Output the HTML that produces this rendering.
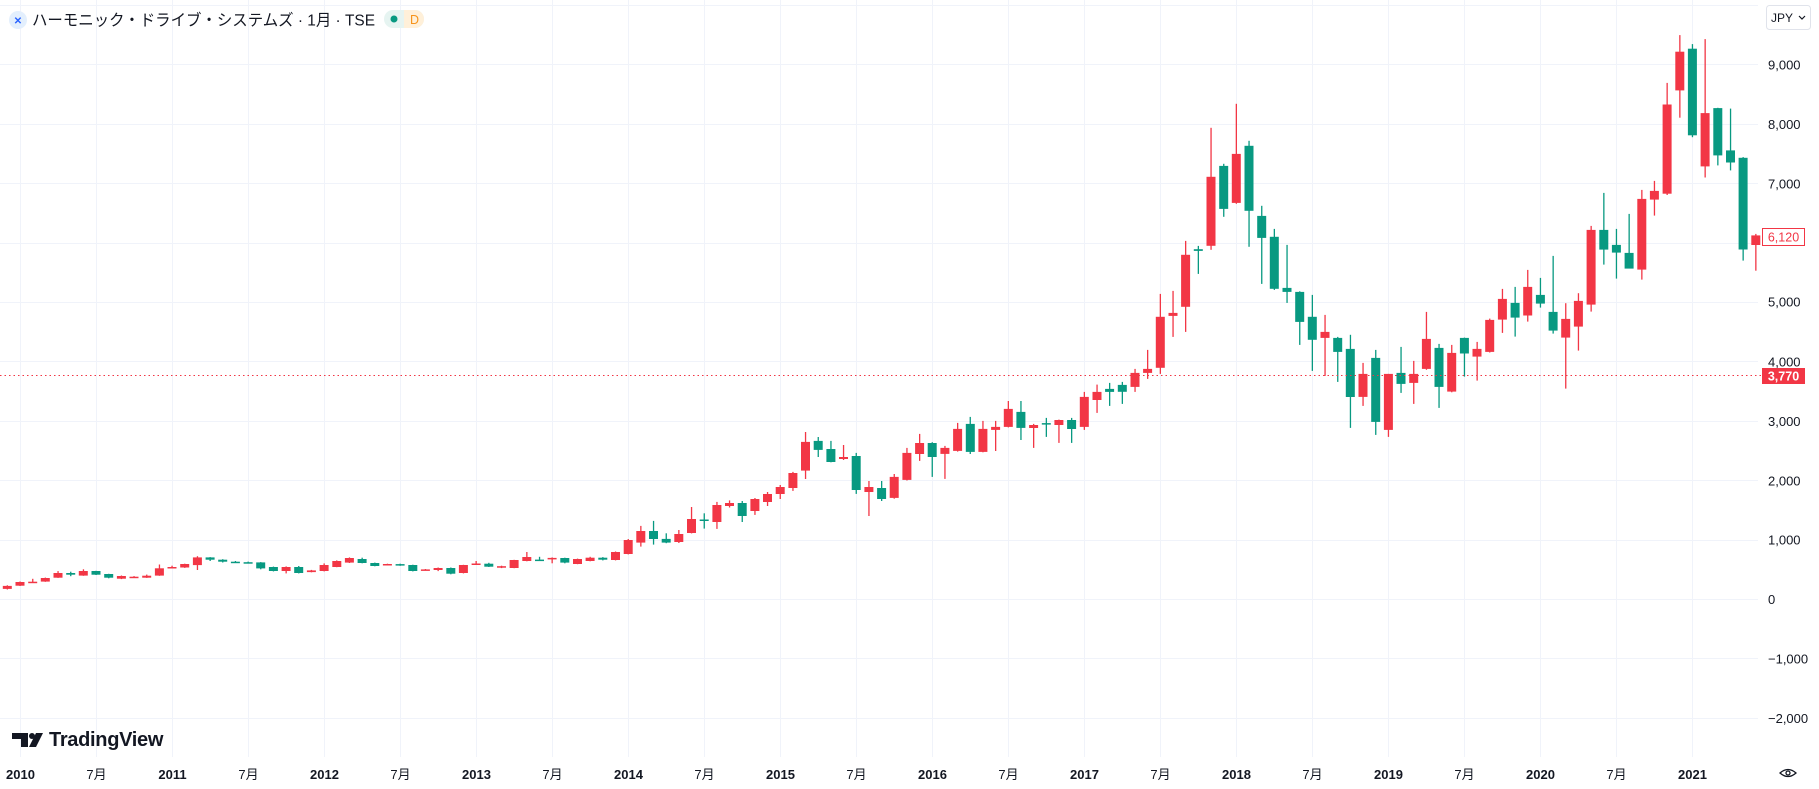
<!DOCTYPE html>
<html><head><meta charset="utf-8">
<style>
html,body{margin:0;padding:0;background:#fff;width:1819px;height:789px;overflow:hidden}
svg{display:block}
text{font-family:"Liberation Sans","Noto Sans CJK JP",sans-serif}
</style></head>
<body>
<svg id="c" width="1819" height="789" viewBox="0 0 1819 789" xmlns="http://www.w3.org/2000/svg">
<g id="grid"></g>
<g id="candles"></g>
<line x1="0" y1="375.5" x2="1762" y2="375.5" stroke="#F23645" stroke-width="1" stroke-dasharray="1.5,3"/>
<g font-size="13" fill="#131722">
<text x="1768" y="69.5">9,000</text>
<text x="1768" y="128.9">8,000</text>
<text x="1768" y="188.3">7,000</text>
<text x="1768" y="306.3">5,000</text>
<text x="1768" y="366.5">4,000</text>
<text x="1768" y="425.9">3,000</text>
<text x="1768" y="485.3">2,000</text>
<text x="1768" y="544.7">1,000</text>
<text x="1768" y="604.1">0</text>
<text x="1768" y="663.5">−1,000</text>
<text x="1768" y="722.9">−2,000</text>
</g>
<rect x="1762.5" y="228.5" width="42" height="17" fill="#fff" stroke="#F23645"/>
<text x="1783.5" y="241.5" font-size="12.5" fill="#F23645" text-anchor="middle">6,120</text>
<rect x="1762" y="368" width="43" height="16" fill="#F23645"/>
<text x="1783.5" y="380.5" font-size="12.5" fill="#fff" font-weight="bold" text-anchor="middle">3,770</text>
<rect x="1766.5" y="5.5" width="44" height="24" rx="3" fill="#fff" stroke="#e0e3eb"/>
<text x="1771" y="22" font-size="12" fill="#131722">JPY</text>
<path d="M1799 16 l3 3 l3 -3" fill="none" stroke="#131722" stroke-width="1.2"/>
<g id="tl" font-size="13" fill="#131722" text-anchor="middle"></g>
<path d="M1780 773 q8 -7 16 0 q-8 7 -16 0z" fill="none" stroke="#131722" stroke-width="1.3"/>
<circle cx="1788" cy="773" r="2" fill="none" stroke="#131722" stroke-width="1.3"/>
<circle cx="18" cy="20" r="9" fill="#e3effd"/>
<text x="18" y="24" font-size="10" fill="#2962ff" text-anchor="middle" font-weight="bold">✕</text>
<text x="32" y="25.5" font-size="16" fill="#131722" textLength="343" lengthAdjust="spacingAndGlyphs">ハーモニック・ドライブ・システムズ · 1月 · TSE</text>
<rect x="384" y="10" width="40" height="18" rx="9" fill="#e6f4f1"/>
<path d="M404 10 h11 a9 9 0 0 1 0 18 h-11z" fill="#fff0d9"/>
<circle cx="394" cy="19" r="3.5" fill="#089981"/>
<text x="410" y="24" font-size="12.5" fill="#f7931a">D</text>
<path d="M12 733 h16 v14 h-7 v-8 h-9z" fill="#131722"/>
<circle cx="32" cy="736" r="3" fill="#131722"/>
<path d="M36 733 h7 l-7 14 h-7z" fill="#131722"/>
<text x="49" y="746" font-size="20" font-weight="bold" fill="#131722" letter-spacing="-0.3">TradingView</text>
</svg>
<script>
(function(){
var d=[
[170,230,160,220],
[224,295,220,286],[286,340,280,292],[292,360,290,353],[359,470,355,438],[438,460,385,409],[393,500,390,471],[471,475,405,409],[421,425,350,359],[342,395,335,387],[368,385,360,375],[360,410,355,393],[393,580,390,516],
[527,560,520,539],[530,595,525,589],[572,720,488,701],[701,705,640,662],[662,670,615,628],[628,640,620,624],[620,630,610,617],[617,622,500,516],[539,545,465,471],[471,548,430,539],[539,555,430,438],[454,490,450,482],
[471,600,465,572],[539,650,535,640],[612,700,605,690],[673,695,600,606],[606,612,550,555],[585,595,580,589],[587,595,560,583],[572,578,465,471],[495,505,490,499],[488,530,470,522],[522,530,415,426],[438,575,430,572],
[595,640,585,597],[595,610,540,544],[548,560,520,552],[522,660,518,656],[640,791,635,707],[664,710,640,660],[688,700,600,692],[690,695,600,612],[589,680,585,673],[640,710,635,696],[696,705,650,662],[656,800,650,791],
[757,1010,750,993],[949,1230,882,1145],[1145,1314,915,1011],[1011,1106,940,949],[960,1162,943,1095],[1112,1549,1105,1347],[1338,1443,1185,1322],[1297,1634,1179,1583],[1566,1660,1540,1617],[1617,1650,1297,1398],[1482,1700,1415,1684],[1634,1802,1566,1768],
[1768,1920,1684,1886],[1869,2139,1819,2122],[2161,2812,2021,2644],[2661,2728,2391,2509],[2526,2661,2300,2307],[2358,2593,2341,2391],[2408,2459,1768,1836],[1802,1987,1398,1886],[1869,1987,1650,1684],[1701,2105,1690,2055],[2004,2543,1995,2459],[2442,2779,2324,2627],
[2627,2640,2055,2391],[2442,2577,2021,2543],[2492,2964,2480,2863],[2947,3065,2440,2476],[2476,2998,2470,2863],[2846,2998,2492,2897],[2897,3334,2890,3200],[3149,3334,2678,2880],[2880,2947,2543,2930],[2962,3048,2728,2950],[2930,3020,2627,3014],[3014,3048,2627,2863],
[2897,3486,2846,3402],[3351,3610,3133,3487],[3537,3638,3251,3487],[3604,3655,3285,3487],[3571,3874,3487,3807],[3807,4194,3706,3874],[3891,5137,3790,4750],[4766,5187,4413,4817],[4918,6029,4497,5794],[5889,5945,5474,5860],[5945,7932,5878,7107],[7292,7326,6433,6568],
[6669,8336,6652,7494],[7629,7713,5928,6534],[6450,6619,5305,6080],[6097,6231,5204,5221],[5238,5962,4985,5170],[5170,5180,4278,4665],[4750,5120,3840,4362],[4396,4783,3756,4497],[4396,4413,3655,4160],[4211,4447,2880,3402],[3402,3975,3251,3790],[4059,4194,2763,2981],
[2847,3790,2729,3790],[3807,4244,3470,3621],[3638,4009,3285,3790],[3874,4834,3860,4379],[4228,4295,3217,3571],[3492,4278,3480,4143],[4395,4400,3744,4132],[4081,4328,3677,4210],[4160,4721,4150,4699],[4704,5221,4480,5052],[4985,5254,4418,4738],[4772,5541,4670,5254],
[5120,5406,4906,4974],[4833,5776,4468,4519],[4401,4979,3542,4715],[4586,5148,4182,5018],[4957,6281,4839,6214],[6214,6837,5630,5883],[5962,6231,5395,5832],[5827,6483,5563,5563],[5546,6888,5378,6736],[6725,7039,6455,6871],[6824,8688,6800,8325],[8562,9494,8104,9214],
[9265,9341,7774,7807],[7282,9426,7096,8180],[8265,8270,7300,7469],[7553,8256,7215,7350],[7427,7440,5697,5884],[5960,6146,5527,6121]
];
var NS="http://www.w3.org/2000/svg";
function Y(p){return 599-p*0.0594;}
function X(i){return 20+12.67*i;}
function el(t,a,p){var e=document.createElementNS(NS,t);for(var k in a)e.setAttribute(k,a[k]);p.appendChild(e);return e;}
var g=document.getElementById('grid');
for(var p=-2000;p<=10000;p+=1000){var y=Math.round(Y(p))+0.5;el('line',{x1:0,x2:1758,y1:y,y2:y,stroke:'#f0f3fa','stroke-width':1},g);}
var tl=document.getElementById('tl');
for(var k=0;k<=23;k++){var x=Math.round(X(k*6))+0.5;if(x>1758)break;el('line',{x1:x,x2:x,y1:0,y2:757,stroke:'#f0f3fa','stroke-width':1},g);
 var t=el('text',{x:x,y:779},tl);
 if(k%2==0){t.textContent=String(2010+k/2);t.setAttribute('font-weight','bold');}else{t.textContent='7月';}}
var cg=document.getElementById('candles');
for(var i=0;i<d.length;i++){
 var c=d[i],o=c[0],h=c[1],l=c[2],cl=c[3];
 var col=cl>=o?'#F23645':'#089981';
 var xx=X(i-1);
 el('rect',{x:(xx-0.6).toFixed(1),y:Y(h).toFixed(1),width:1.3,height:Math.max(1,Y(l)-Y(h)).toFixed(1),fill:col},cg);
 var bt=Y(Math.max(o,cl)),bb=Y(Math.min(o,cl));
 el('rect',{x:(xx-4.5).toFixed(1),y:bt.toFixed(1),width:9,height:Math.max(1.5,bb-bt).toFixed(1),fill:col},cg);
}
})();
</script>
</body></html>
